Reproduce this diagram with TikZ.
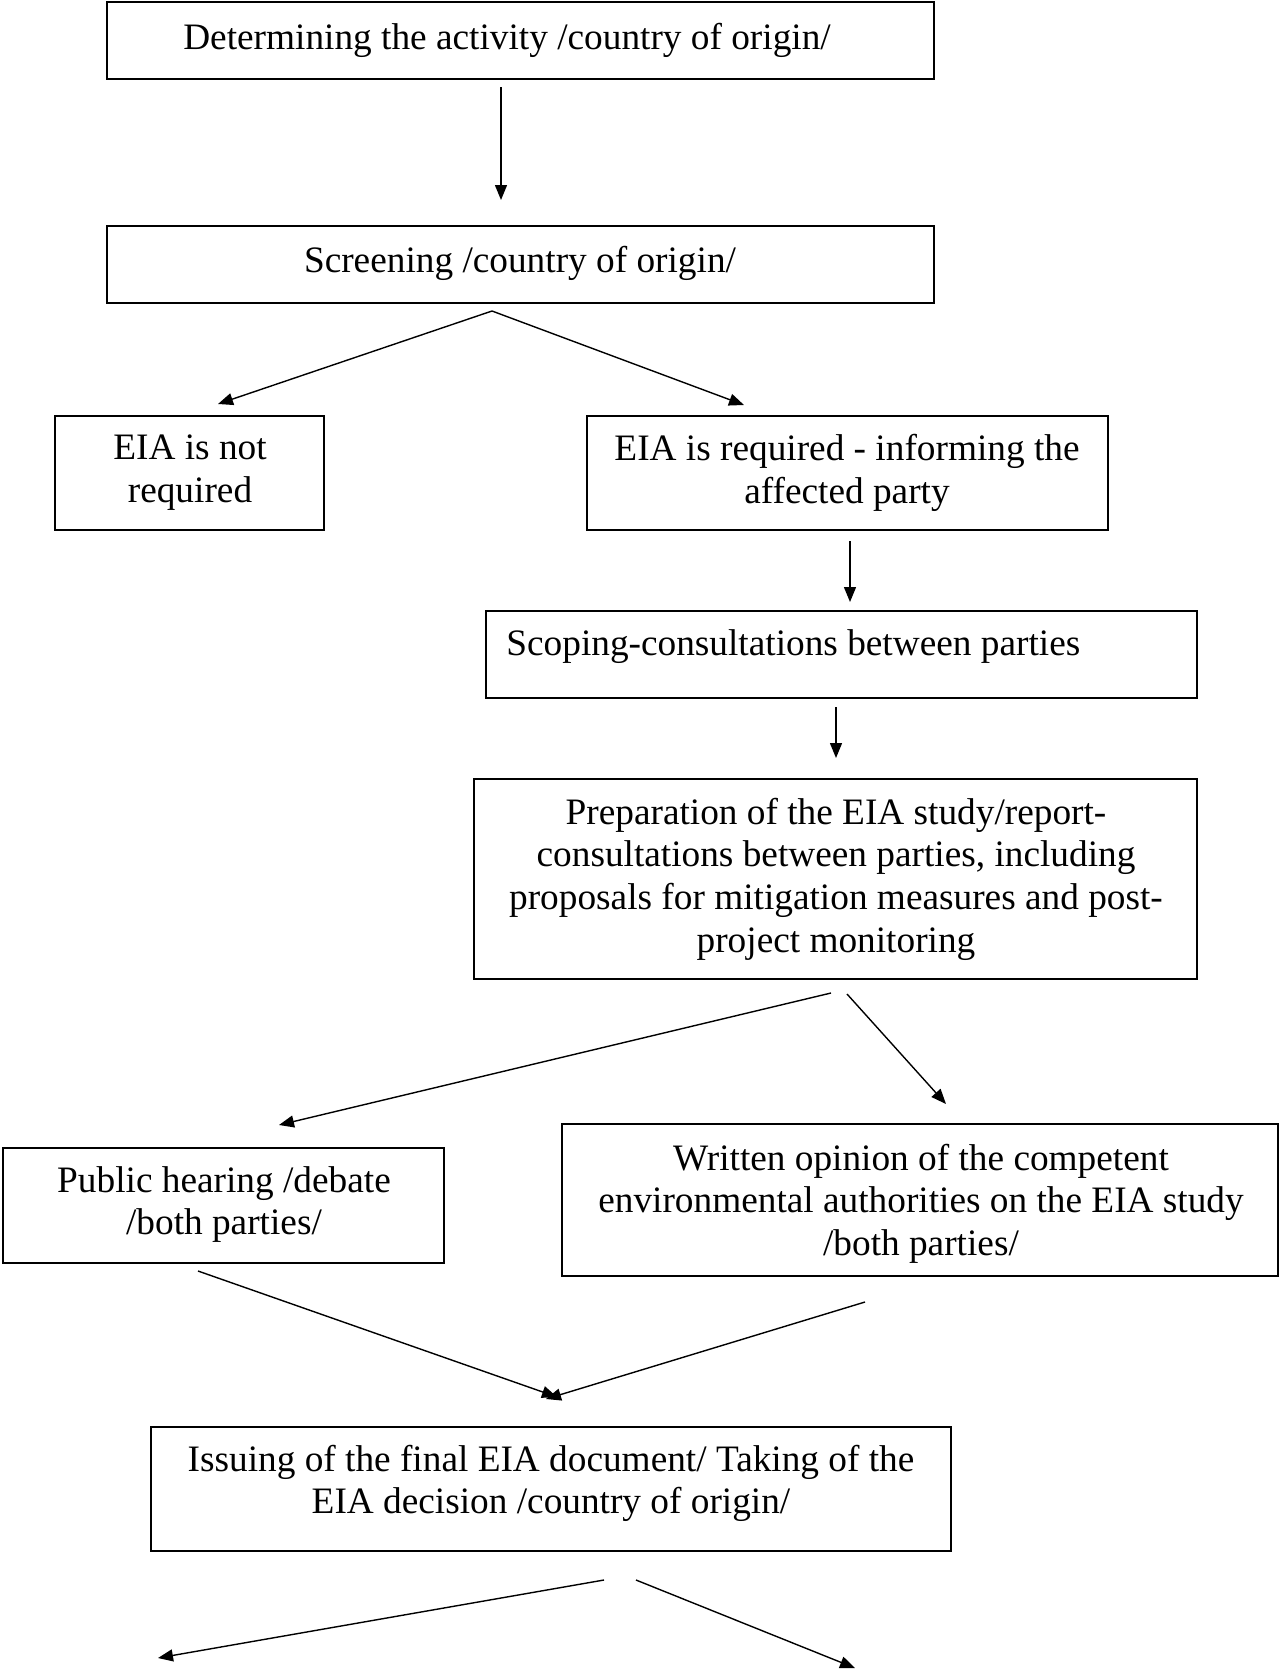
\documentclass[tikz,border=0pt]{standalone}
\usepackage{fontspec}
\setmainfont{Liberation Serif}
\usetikzlibrary{arrows.meta}
\begin{document}
\begin{tikzpicture}[x=0.5pt,y=-0.5pt,
  box/.style={draw=black,line width=0.9pt,inner sep=0pt,rectangle},
  txt/.style={inner sep=0pt,align=center,font=\fontsize{18.65}{21.3}\selectfont},
  arr/.style={draw=black,line width=0.7pt,-{Triangle[length=7.5pt,width=6pt]}}]
\useasboundingbox (0,0) rectangle (1280,1671);
% boxes
\node[box,minimum width=413.5pt,minimum height=38.5pt] (b1) at (520.5,40.5) {};
\node[box,minimum width=413.5pt,minimum height=38.5pt] (b2) at (520.5,264.5) {};
\node[box,minimum width=134.5pt,minimum height=57pt] (b3) at (189.5,473) {};
\node[box,minimum width=260.5pt,minimum height=57pt] (b4) at (847.5,473) {};
\node[box,minimum width=355.5pt,minimum height=43.5pt] (b5) at (841.5,654.5) {};
\node[box,minimum width=361.5pt,minimum height=100pt] (b6) at (835.5,879) {};
\node[box,minimum width=220.5pt,minimum height=57.5pt] (b7) at (223.5,1205.5) {};
\node[box,minimum width=358pt,minimum height=76pt] (b8) at (920,1200) {};
\node[box,minimum width=400pt,minimum height=62pt] (b9) at (551,1489) {};
% texts
\node[txt] (t1) at (507,40.5) {Determining the activity /country of origin/};
\node[txt] (t2) at (520,263) {Screening /country of origin/};
\node[txt] (t3) at (190,472.5) {EIA is not\\required};
\node[txt] (t4) at (847,473) {EIA is required - informing the\\affected party};
\node[txt,anchor=west] (t5) at (506,647) {Scoping-consultations between parties};
\node[txt] (t6) at (836,879) {Preparation of the EIA study/report-\\consultations between parties, including\\proposals for mitigation measures and post-\\project monitoring};
\node[txt] (t7) at (224,1204.5) {Public hearing /debate\\/both parties/};
\node[txt] (t8) at (921,1203.5) {Written opinion of the competent\\environmental authorities on the EIA study\\/both parties/};
\node[txt] (t9) at (551,1483.5) {Issuing of the final EIA document/ Taking of the\\EIA decision /country of origin/};
% connector end points
\coordinate (a1s) at (501,87);   \coordinate (a1e) at (501,200);
\coordinate (a2s) at (492,311);  \coordinate (a2e) at (218,404);
\coordinate (a3e) at (744,405);
\coordinate (a4s) at (850,541);  \coordinate (a4e) at (850,602);
\coordinate (a5s) at (836,707);  \coordinate (a5e) at (836,758);
\coordinate (a6s) at (831,993);  \coordinate (a6e) at (279,1125);
\coordinate (a7s) at (847,994);  \coordinate (a7e) at (946,1104);
\coordinate (a8s) at (198,1271); \coordinate (a8e) at (557,1397);
\coordinate (a9s) at (865,1302); \coordinate (a9e) at (546,1399);
\coordinate (a10s) at (604,1580); \coordinate (a10e) at (158,1658);
\coordinate (a11s) at (636,1580); \coordinate (a11e) at (855,1668);
% connectors
\draw[arr] (a1s) -- (a1e);
\draw[arr] (a2s) -- (a2e);
\draw[arr] (a2s) -- (a3e);
\draw[arr] (a4s) -- (a4e);
\draw[arr] (a5s) -- (a5e);
\draw[arr] (a6s) -- (a6e);
\draw[arr] (a7s) -- (a7e);
\draw[arr] (a8s) -- (a8e);
\draw[arr] (a9s) -- (a9e);
\draw[arr] (a10s) -- (a10e);
\draw[arr] (a11s) -- (a11e);
\end{tikzpicture}
\end{document}
